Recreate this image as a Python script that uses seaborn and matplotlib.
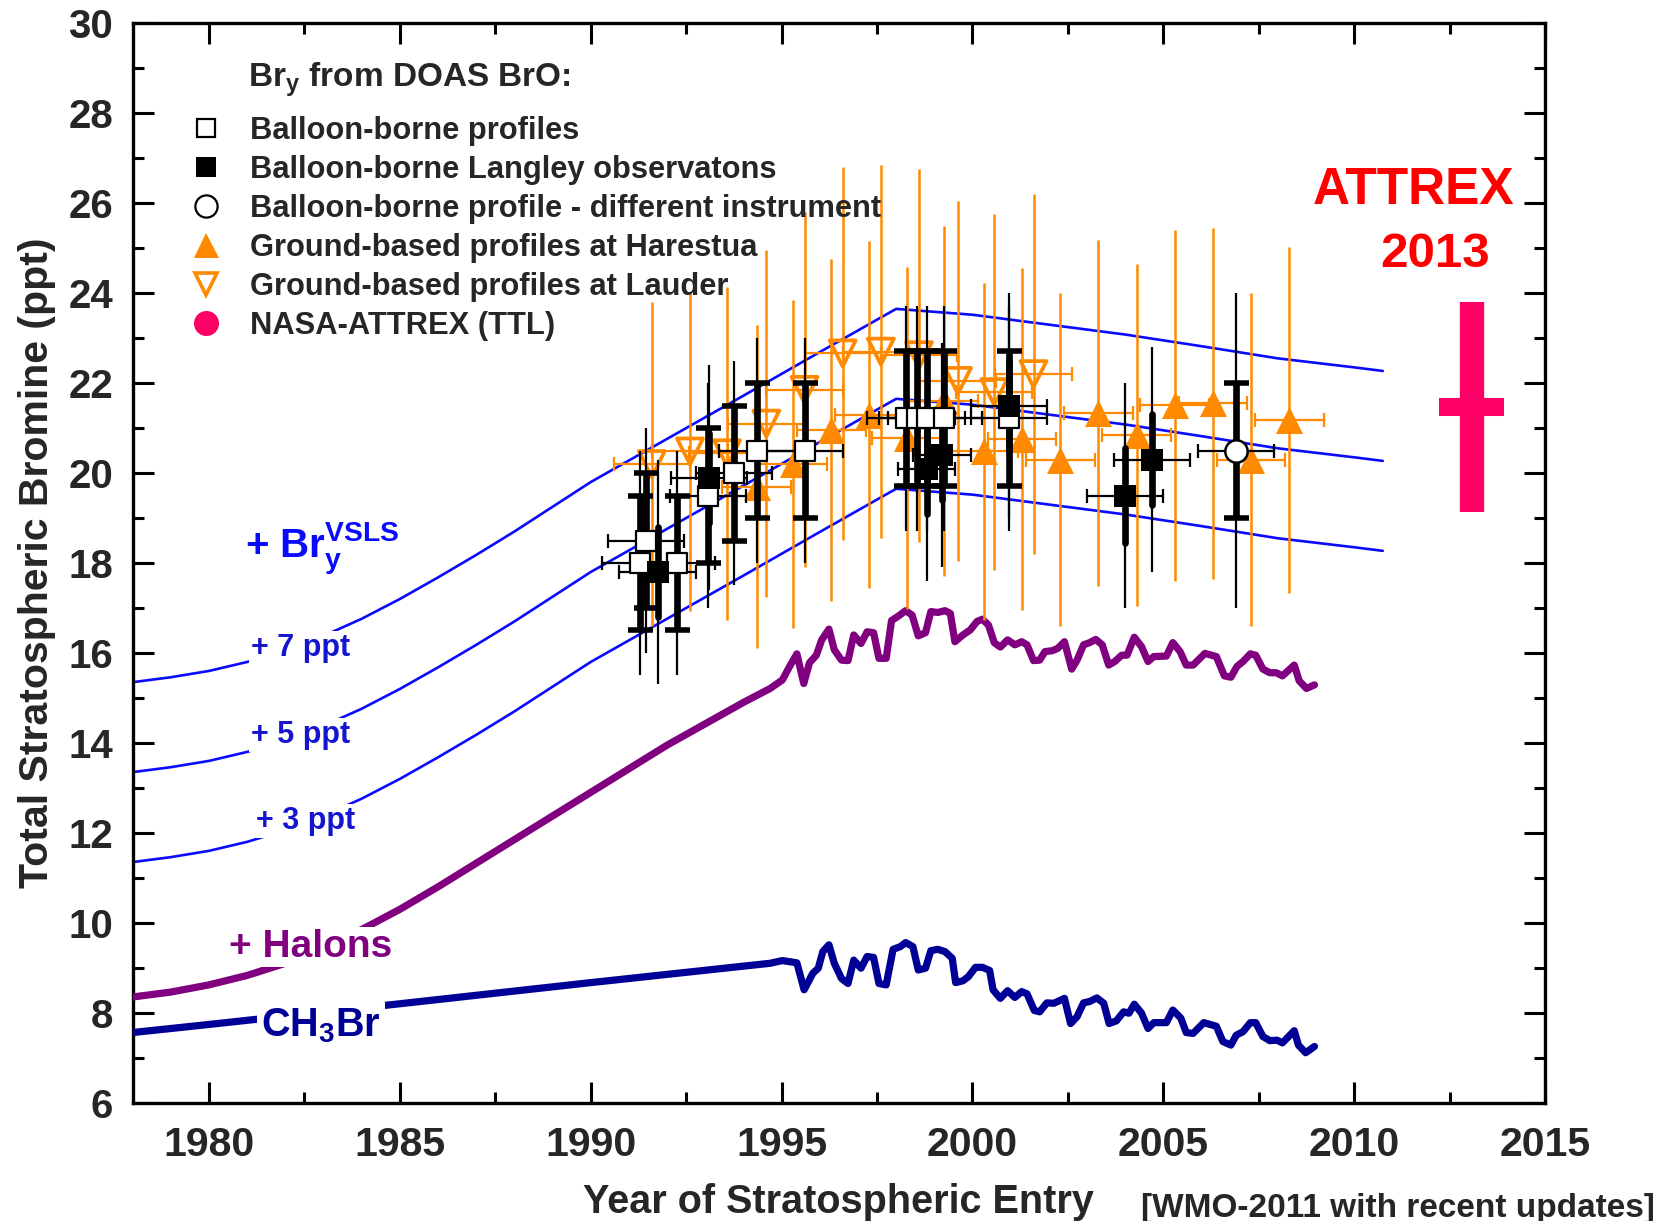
import numpy as np
import pandas as pd
import matplotlib
matplotlib.use("Agg")
import matplotlib.pyplot as plt
import seaborn as sns
from matplotlib.ticker import MultipleLocator
from matplotlib.lines import Line2D

# ---------------- data ----------------
ch3br_year = [1978.0, 1980.0, 1985.0, 1990.0,
              1994.70, 1995.02, 1995.40, 1995.59, 1995.82, 1995.96, 1996.08, 1996.24, 1996.38, 1996.57,
              1996.74, 1996.89, 1997.08, 1997.24, 1997.41, 1997.55, 1997.74, 1997.92, 1998.11, 1998.25,
              1998.44, 1998.58, 1998.77, 1998.91, 1999.09, 1999.28, 1999.47, 1999.56, 1999.75, 1999.89,
              2000.08, 2000.26, 2000.45, 2000.54, 2000.73, 2000.92, 2001.11, 2001.29, 2001.43, 2001.62,
              2001.76, 2001.95, 2002.13, 2002.41, 2002.57, 2002.74, 2002.91, 2003.07, 2003.26, 2003.44,
              2003.58, 2003.77, 2003.96, 2004.10, 2004.24, 2004.43, 2004.60, 2004.75, 2005.08, 2005.25,
              2005.46, 2005.60, 2005.78, 2006.06, 2006.39, 2006.56, 2006.77, 2006.91, 2007.09, 2007.28,
              2007.42, 2007.61, 2007.79, 2007.98, 2008.12, 2008.43, 2008.54, 2008.73, 2008.96]
ch3br_val = [7.56, 7.74, 8.20, 8.67,
             9.10, 9.16, 9.11, 8.51, 8.88, 8.99, 9.36, 9.51, 9.10, 8.76,
             8.65, 9.17, 8.99, 9.25, 9.23, 8.65, 8.62, 9.41, 9.47, 9.56,
             9.47, 8.95, 8.99, 9.38, 9.41, 9.36, 9.21, 8.67, 8.71, 8.80,
             9.01, 9.01, 8.94, 8.51, 8.32, 8.49, 8.34, 8.47, 8.42, 8.05,
             8.02, 8.22, 8.21, 8.32, 7.76, 7.91, 8.22, 8.25, 8.33, 8.21,
             7.76, 7.82, 8.02, 7.99, 8.19, 7.99, 7.65, 7.78, 7.78, 8.06,
             7.88, 7.56, 7.54, 7.78, 7.70, 7.36, 7.28, 7.50, 7.58, 7.78,
             7.78, 7.47, 7.38, 7.39, 7.33, 7.60, 7.28, 7.11, 7.25]

halon_year = [1978.0, 1979.0, 1980.0, 1981.0, 1982.0, 1983.0, 1984.0, 1985.0, 1986.0, 1988.0,
              1990.0, 1992.0, 1994.0,
              1994.70, 1995.02, 1995.21, 1995.40, 1995.58, 1995.73, 1995.91, 1996.05, 1996.24, 1996.38,
              1996.57, 1996.74, 1996.89, 1997.08, 1997.24, 1997.41, 1997.55, 1997.74, 1997.88, 1998.06,
              1998.25, 1998.42, 1998.58, 1998.77, 1998.91, 1999.09, 1999.28, 1999.42, 1999.54, 1999.75,
              1999.94, 2000.12, 2000.26, 2000.42, 2000.57, 2000.73, 2000.92, 2001.11, 2001.29, 2001.43,
              2001.60, 2001.76, 2001.90, 2002.09, 2002.23, 2002.41, 2002.60, 2002.74, 2002.91, 2003.07,
              2003.23, 2003.40, 2003.57, 2003.73, 2003.91, 2004.05, 2004.24, 2004.43, 2004.60, 2004.75,
              2005.08, 2005.25, 2005.44, 2005.60, 2005.78, 2006.09, 2006.39, 2006.60, 2006.77, 2006.93,
              2007.09, 2007.28, 2007.42, 2007.61, 2007.79, 2007.96, 2008.12, 2008.43, 2008.56, 2008.75,
              2008.96]
halon_val = [8.35, 8.46, 8.62, 8.83, 9.10, 9.45, 9.85, 10.30, 10.80, 11.85,
             12.90, 13.95, 14.90,
             15.21, 15.40, 15.70, 15.98, 15.32, 15.78, 15.95, 16.29, 16.53, 16.07,
             15.84, 15.83, 16.40, 16.21, 16.47, 16.45, 15.88, 15.88, 16.72, 16.82,
             16.94, 16.84, 16.38, 16.45, 16.92, 16.90, 16.94, 16.88, 16.25, 16.40,
             16.51, 16.70, 16.75, 16.62, 16.23, 16.13, 16.29, 16.18, 16.25, 16.18,
             15.83, 15.84, 16.03, 16.05, 16.10, 16.25, 15.64, 15.84, 16.18, 16.23,
             16.30, 16.18, 15.73, 15.81, 15.95, 15.95, 16.35, 16.14, 15.81, 15.92,
             15.93, 16.23, 16.03, 15.73, 15.73, 15.99, 15.92, 15.49, 15.46, 15.70,
             15.81, 15.98, 15.95, 15.64, 15.56, 15.56, 15.49, 15.73, 15.38, 15.21,
             15.29]

vsls_year = [1978.0, 1979.0, 1980.0, 1981.0, 1982.0, 1983.0, 1984.0, 1985.0, 1986.0, 1987.0,
             1988.0, 1989.0, 1990.0, 1992.0, 1994.0, 1996.0,
             1998.0, 2000.0, 2002.0, 2004.0, 2006.0, 2008.0, 2010.0, 2010.75]
vsls_base = [8.35, 8.46, 8.60, 8.80, 9.06, 9.38, 9.76, 10.20, 10.68, 11.18,
             11.70, 12.25, 12.80, 13.76, 14.72, 15.69,
             16.65, 16.52, 16.30, 16.08, 15.82, 15.55, 15.35, 15.27]
vsls_offsets = [3, 5, 7]

# Ground-based Harestua (filled up triangles)
har_year = [1994.35, 1995.30, 1996.30, 1997.30, 1998.28, 1999.25, 2000.30, 2001.30,
            2002.30, 2003.30, 2004.30, 2005.30, 2006.30, 2007.30, 2008.30]
har_val = [19.70, 20.20, 20.95, 21.30, 20.78, 21.60, 20.48, 20.75,
           20.30, 21.33, 20.85, 21.51, 21.55, 20.30, 21.18]
har_yerr = [3.6, 3.65, 3.8, 3.85, 3.8, 3.9, 3.75, 3.8, 3.7, 3.85, 3.8, 3.9, 3.9, 3.7, 3.85]
har_xerr = [0.9, 0.9, 0.9, 0.9, 0.9, 0.9, 0.9, 0.9, 0.9, 0.9, 0.9, 0.9, 0.9, 0.9, 0.9]

# Ground-based Lauder (open down triangles)
lau_year = [1991.60, 1992.60, 1993.57, 1994.60, 1995.60, 1996.60, 1997.60, 1998.60,
            1999.62, 2000.57, 2001.60]
lau_val = [20.20, 20.48, 20.44, 21.10, 21.85, 22.66, 22.70, 22.62, 22.05, 21.80, 22.20]
lau_yerr = [3.6, 3.55, 3.7, 3.85, 3.95, 4.15, 4.15, 4.15, 4.0, 3.95, 4.0]
lau_xerr = [1.0, 1.0, 1.0, 1.0, 1.0, 1.0, 1.0, 1.0, 1.0, 1.0, 1.0]

# Balloon-borne profiles (open squares)
bal_year = [1991.30, 1991.45, 1992.25, 1993.08, 1993.75, 1994.35, 1995.60,
            1998.25, 1998.55, 1998.80, 1999.25, 2000.95]
bal_val = [18.0, 18.5, 18.0, 19.5, 20.0, 20.5, 20.5, 21.22, 21.22, 21.22, 21.22, 21.22]
bal_yerr_in = [1.5, 1.5, 1.5, 1.5, 1.5, 1.5, 1.5, 1.5, 1.5, 1.5, 1.5, 1.5]
bal_yerr_out = [2.5, 2.5, 2.5, 2.5, 2.5, 2.5, 2.5, 2.5, 2.5, 2.5, 2.5, 2.5]
bal_xerr = [1.0, 1.0, 1.0, 1.0, 1.0, 1.0, 1.0, 1.0, 1.0, 1.0, 1.0, 1.0]

# Balloon-borne Langley (filled squares)
lang_year = [1991.75, 1993.10, 1998.80, 1999.20, 2000.95, 2004.00, 2004.70]
lang_val = [17.8, 19.9, 20.1, 20.4, 21.5, 19.5, 20.3]
lang_yerr_in = [1.0, 1.0, 1.0, 1.0, 1.0, 1.05, 1.02]
lang_yerr_out = [2.5, 2.5, 2.5, 2.5, 2.5, 2.5, 2.5]
lang_xerr = [1.0, 1.0, 0.75, 0.75, 1.0, 1.0, 1.0]

# Balloon-borne, different instrument (open circle)
circ_year = [2006.90]
circ_val = [20.5]
circ_yerr_in = [1.5]
circ_yerr_out = [3.5]
circ_xerr = [1.0]

# NASA-ATTREX (TTL)
att_year = [2013.08]
att_val = [21.47]
att_yerr = [2.33]
att_xerr = [0.85]

# ---------------- style ----------------
sns.set_theme(style="ticks")
plt.rcParams["font.family"] = ["Liberation Sans", "DejaVu Sans"]
plt.rcParams["font.weight"] = "bold"
plt.rcParams["mathtext.fontset"] = "custom"
plt.rcParams["mathtext.rm"] = "Liberation Sans:bold"
plt.rcParams["mathtext.it"] = "Liberation Sans:bold"
plt.rcParams["mathtext.bf"] = "Liberation Sans:bold"
plt.rcParams["mathtext.default"] = "rm"

BLUE = "#0a0aff"
LBLUE = "#1515d0"
NAVY = "#000096"
PURPLE = "#800080"
ORANGE = "#ff8a00"
PINK = "#ff0066"

fig = plt.figure(figsize=(16.72, 12.21), dpi=100)
ax = fig.add_axes([0.07937, 0.09689, 0.84468, 0.88403])
ax.set_facecolor("white")

# VSLS lines
rows = []
for off in vsls_offsets:
    for yr, b in zip(vsls_year, vsls_base):
        rows.append({"year": yr, "val": b + off, "offset": off})
df_vsls = pd.DataFrame(rows)
sns.lineplot(data=df_vsls, x="year", y="val", units="offset", estimator=None,
             color=BLUE, lw=1.9, sort=False, ax=ax, zorder=2)

df_hal = pd.DataFrame({"year": halon_year, "val": halon_val})
sns.lineplot(data=df_hal, x="year", y="val", color=PURPLE, lw=5.2, sort=False,
             estimator=None, ax=ax, zorder=3)
df_ch3 = pd.DataFrame({"year": ch3br_year, "val": ch3br_val})
sns.lineplot(data=df_ch3, x="year", y="val", color=NAVY, lw=5.2, sort=False,
             estimator=None, ax=ax, zorder=3)

# orange error bars
ax.errorbar(har_year, har_val, yerr=har_yerr, fmt="none", ecolor=ORANGE, elinewidth=1.8, zorder=4)
ax.errorbar(har_year, har_val, xerr=har_xerr, fmt="none", ecolor=ORANGE, elinewidth=1.6,
            capsize=5, capthick=1.6, zorder=4)
ax.errorbar(lau_year, lau_val, yerr=lau_yerr, fmt="none", ecolor=ORANGE, elinewidth=1.8, zorder=4)
ax.errorbar(lau_year, lau_val, xerr=lau_xerr, fmt="none", ecolor=ORANGE, elinewidth=1.6,
            capsize=5, capthick=1.6, zorder=4)
sns.scatterplot(x=har_year, y=har_val, marker="^", s=380, color=ORANGE, linewidth=0,
                ax=ax, zorder=5)
sns.scatterplot(x=lau_year, y=lau_val, marker="v", s=350, color=ORANGE, linewidth=2.7,
                ax=ax, zorder=5)
ax.collections[-1].set_facecolor("none")
ax.collections[-1].set_edgecolor(ORANGE)

# black error bars
def black_bars(x, y, e_in, e_out, e_x, caps_in, z):
    ax.errorbar(x, y, yerr=e_out, fmt="none", ecolor="black", elinewidth=1.6, zorder=z)
    eb = ax.errorbar(x, y, yerr=e_in, fmt="none", ecolor="black", elinewidth=4.8,
                     capsize=(9 if caps_in else 0), capthick=4.0, zorder=z)
    if not caps_in:
        for lc in eb.lines[2]:
            lc.set_capstyle("round")
    ax.errorbar(x, y, xerr=e_x, fmt="none", ecolor="black", elinewidth=1.6,
                capsize=5, capthick=1.6, zorder=z)

black_bars(bal_year, bal_val, bal_yerr_in, bal_yerr_out, bal_xerr, True, 6)
black_bars(lang_year, lang_val, lang_yerr_in, lang_yerr_out, lang_xerr, False, 6)
black_bars(circ_year, circ_val, circ_yerr_in, circ_yerr_out, circ_xerr, True, 6)

sns.scatterplot(x=bal_year, y=bal_val, marker="s", s=200, color="white", edgecolor="black",
                linewidth=1.6, ax=ax, zorder=7)
ax.collections[-1].set_facecolor("white")
ax.collections[-1].set_edgecolor("black")
sns.scatterplot(x=lang_year, y=lang_val, marker="s", s=260, color="black", linewidth=0,
                ax=ax, zorder=7)
sns.scatterplot(x=circ_year, y=circ_val, marker="o", s=260, color="white", edgecolor="black",
                linewidth=1.8, ax=ax, zorder=7)
ax.collections[-1].set_facecolor("white")
ax.collections[-1].set_edgecolor("black")

# ATTREX
sns.scatterplot(x=att_year, y=att_val, marker="o", s=400, color=PINK, linewidth=0, ax=ax, zorder=5)
ax.errorbar(att_year, att_val, yerr=att_yerr, fmt="none", ecolor=PINK, elinewidth=17.5, zorder=6)
ax.errorbar(att_year, att_val, xerr=att_xerr, fmt="none", ecolor=PINK, elinewidth=13, zorder=6)

# ---------------- axes ----------------
ax.set_xlim(1978, 2015)
ax.set_ylim(6, 30)
ax.xaxis.set_major_locator(MultipleLocator(5))
ax.xaxis.set_minor_locator(MultipleLocator(2.5))
ax.yaxis.set_major_locator(MultipleLocator(2))
ax.yaxis.set_minor_locator(MultipleLocator(1))
ax.tick_params(which="both", direction="in", top=True, right=True, width=2.2, color="black")
ax.tick_params(which="major", length=15)
ax.tick_params(which="minor", length=8)
ax.tick_params(axis="x", which="major", labelsize=29.5, pad=17)
ax.tick_params(axis="y", which="major", labelsize=29, pad=14)
for lab in ax.get_xticklabels() + ax.get_yticklabels():
    lab.set_fontweight("bold")
for sp in ax.spines.values():
    sp.set_linewidth(2.4)
    sp.set_color("black")
    sp.set_visible(True)

ax.set_xlabel("Year of Stratospheric Entry", fontsize=28.5, fontweight="bold")
ax.set_ylabel("Total Stratospheric Bromine (ppt)", fontsize=29.5, fontweight="bold")
ax.xaxis.set_label_coords(0.5, -0.074)
ax.yaxis.set_label_coords(-0.0545, 0.5)

# ---------------- legend ----------------
handles = [
    Line2D([], [], ls="none", marker="s", ms=13, mfc="white", mec="black", mew=1.6),
    Line2D([], [], ls="none", marker="s", ms=14, mfc="black", mec="black", mew=0),
    Line2D([], [], ls="none", marker="o", ms=16, mfc="white", mec="black", mew=1.6),
    Line2D([], [], ls="none", marker="^", ms=18, mfc=ORANGE, mec=ORANGE, mew=0),
    Line2D([], [], ls="none", marker="v", ms=16, mfc="none", mec=ORANGE, mew=2.6),
    Line2D([], [], ls="none", marker="o", ms=18, mfc=PINK, mec=PINK, mew=0),
]
labels = ["Balloon-borne profiles", "Balloon-borne Langley observatons",
          "Balloon-borne profile - different instrument", "Ground-based profiles at Harestua",
          "Ground-based profiles at Lauder", "NASA-ATTREX (TTL)"]
leg = ax.legend(handles, labels, loc="upper left", bbox_to_anchor=(0.0418, 0.914),
                frameon=False, fontsize=22.2, handlelength=0.95, handletextpad=0.95,
                labelspacing=0.29, borderpad=0, borderaxespad=0)
for t in leg.get_texts():
    t.set_fontweight("bold")

ax.text(1981.02, 28.60, r"Br$_\mathregular{y}$ from DOAS BrO:", fontsize=24,
        fontweight="bold", ha="left", va="baseline", zorder=9)

# ---------------- annotations ----------------
wbox = dict(facecolor="white", edgecolor="none", pad=1.5)
ax.text(1980.94, 18.12, r"+ Br$_\mathregular{y}^\mathregular{VSLS}$", fontsize=29, color=BLUE,
        fontweight="bold", ha="left", va="baseline", zorder=9)
ax.text(1982.40, 16.10, "+ 7 ppt", fontsize=22, color=LBLUE, fontweight="bold",
        ha="center", va="center", bbox=wbox, zorder=9)
ax.text(1982.40, 14.17, "+ 5 ppt", fontsize=22, color=LBLUE, fontweight="bold",
        ha="center", va="center", bbox=wbox, zorder=9)
ax.text(1982.52, 12.26, "+ 3 ppt", fontsize=22, color=LBLUE, fontweight="bold",
        ha="center", va="center", bbox=wbox, zorder=9)
ax.text(1982.65, 9.46, "+ Halons", fontsize=28, color=PURPLE, fontweight="bold",
        ha="center", va="center", bbox=wbox, zorder=9)
ax.text(1982.93, 7.48, r"CH$_\mathregular{3}$Br", fontsize=28.5, color=NAVY, fontweight="bold",
        ha="center", va="baseline", bbox=dict(facecolor="white", edgecolor="none", pad=3), zorder=9)

ax.text(2011.55, 26.28, "ATTREX", fontsize=37, color="#ff0000", fontweight="bold",
        ha="center", va="center", zorder=9)
ax.text(2012.13, 24.85, "2013", fontsize=35.5, color="#ff0000", fontweight="bold",
        ha="center", va="center", zorder=9)

fig.text(0.990, 0.0105, "[WMO-2011 with recent updates]", fontsize=24, fontweight="bold",
         ha="right", va="center")

fig.savefig("out.png", dpi=100, facecolor="white")
